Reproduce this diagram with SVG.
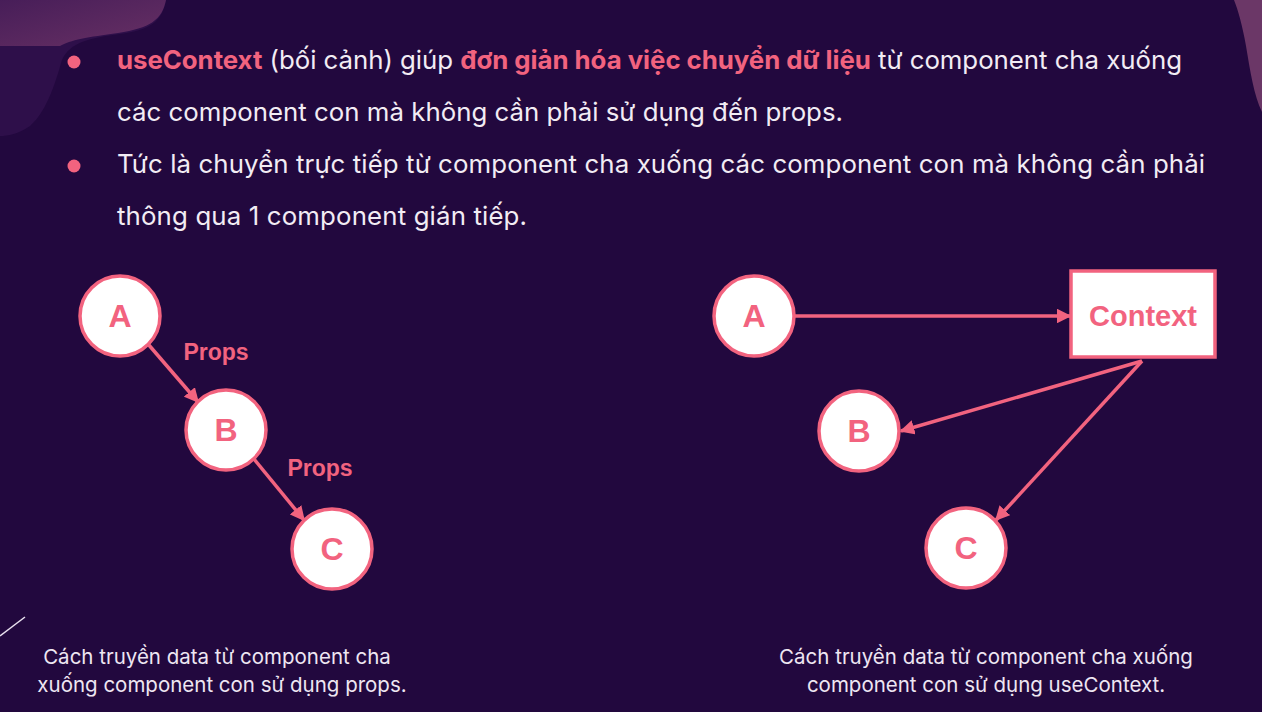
<svg xmlns="http://www.w3.org/2000/svg" width="1262" height="712" viewBox="0 0 1262 712">
  <defs>
    <style>
      .body { font-family: Inter, "Noto Sans", "DejaVu Sans", sans-serif; font-size: 25.8px; fill: #f2ecf4; }
      .hl { font-weight: 700; fill: #f2637f; }
      .cap { font-family: Inter, "Noto Sans", "DejaVu Sans", sans-serif; font-size: 20.5px; fill: #eee6f2; text-anchor: middle; }
      .node circle { fill: #ffffff; stroke: #f2637f; stroke-width: 3.5; }
      .node rect { fill: #ffffff; stroke: #f2637f; stroke-width: 3.5; }
      .lbl { font-family: "Liberation Sans", Arial, sans-serif; font-weight: 700; fill: #f2637f; text-anchor: middle; }
      .edge { stroke: #f2637f; stroke-width: 3.5; fill: none; marker-end: url(#arrow); }
    </style>
    <marker id="arrow" viewBox="0 0 10 10" refX="9" refY="5" markerWidth="4.2" markerHeight="4.2" orient="auto" markerUnits="strokeWidth">
      <path d="M0,0 L10,5 L0,10 z" fill="#f2637f"/>
    </marker>
    <linearGradient id="blobL" x1="0" y1="0" x2="1" y2="1">
      <stop offset="0" stop-color="#4a1f5a"/>
      <stop offset="1" stop-color="#6e3467"/>
    </linearGradient>
  </defs>

  <!-- background -->
  <rect width="1262" height="712" fill="#22083e"/>
  <!-- decorative corner shapes -->
  <path d="M0,0 H166 C162,22 150,30 120,34 C90,38 70,42 62,60 C56,80 48,110 30,126 C18,134 8,136 0,136 Z" fill="#2e0f4a"/>
  <path d="M0,0 H166 C162,20 150,28 118,33 C88,37 70,40 60,46 L0,46 Z" fill="url(#blobL)" opacity="0.9"/>
  <path d="M1234,0 H1262 V112 C1254,96 1250,70 1246,46 C1242,24 1238,10 1234,0 Z" fill="#6b3767"/>
  <line x1="0" y1="636" x2="25" y2="617" stroke="#e8e0ee" stroke-width="1.5"/>

  <!-- bullet text -->
  <g id="bullets">
    <circle cx="74" cy="62" r="6.5" fill="#f2637f"/>
    <circle cx="74" cy="166" r="6.5" fill="#f2637f"/>
    <text class="body" x="117" y="69" textLength="1065" lengthAdjust="spacing"><tspan class="hl">useContext</tspan> (bối cảnh) giúp <tspan class="hl">đơn giản hóa việc chuyển dữ liệu</tspan> từ component cha xuống</text>
    <text class="body" x="117" y="121" textLength="726" lengthAdjust="spacing">các component con mà không cần phải sử dụng đến props.</text>
    <text class="body" x="117" y="173" textLength="1088" lengthAdjust="spacing">Tức là chuyển trực tiếp từ component cha xuống các component con mà không cần phải</text>
    <text class="body" x="117" y="225" textLength="410" lengthAdjust="spacing">thông qua 1 component gián tiếp.</text>
  </g>

  <!-- connectors -->
  <g id="connectors">
    <line class="edge" x1="148" y1="344" x2="198" y2="402"/>
    <line class="edge" x1="254" y1="459" x2="304" y2="520"/>
    <line class="edge" x1="795" y1="316" x2="1070" y2="316"/>
    <line class="edge" x1="1142" y1="361" x2="901" y2="431"/>
    <line class="edge" x1="1142" y1="361" x2="996" y2="520"/>
  </g>
  <g id="edge-labels">
    <text class="lbl" x="216" y="360" font-size="23">Props</text>
    <text class="lbl" x="320" y="476" font-size="23">Props</text>
  </g>

  <!-- props chain -->
  <g id="propsA" class="node"><circle cx="120" cy="316" r="40"/><text class="lbl" x="120" y="327" font-size="32">A</text></g>
  <g id="propsB" class="node"><circle cx="226" cy="430" r="40"/><text class="lbl" x="226" y="441" font-size="32">B</text></g>
  <g id="propsC" class="node"><circle cx="332" cy="549" r="40"/><text class="lbl" x="332" y="560" font-size="32">C</text></g>

  <!-- context layout -->
  <g id="ctxA" class="node"><circle cx="754" cy="316" r="40"/><text class="lbl" x="754" y="327" font-size="32">A</text></g>
  <g id="context" class="node"><rect x="1071" y="271" width="144" height="86"/><text class="lbl" x="1143" y="326" font-size="29">Context</text></g>
  <g id="ctxB" class="node"><circle cx="859" cy="431" r="40"/><text class="lbl" x="859" y="442" font-size="32">B</text></g>
  <g id="ctxC" class="node"><circle cx="966" cy="548" r="40"/><text class="lbl" x="966" y="559" font-size="32">C</text></g>

  <!-- captions -->
  <g id="captions">
    <text class="cap" x="217" y="664">Cách truyền data từ component cha</text>
    <text class="cap" x="222" y="692">xuống component con sử dụng props.</text>
    <text class="cap" x="986" y="664">Cách truyền data từ component cha xuống</text>
    <text class="cap" x="986" y="692">component con sử dụng useContext.</text>
  </g>
</svg>
